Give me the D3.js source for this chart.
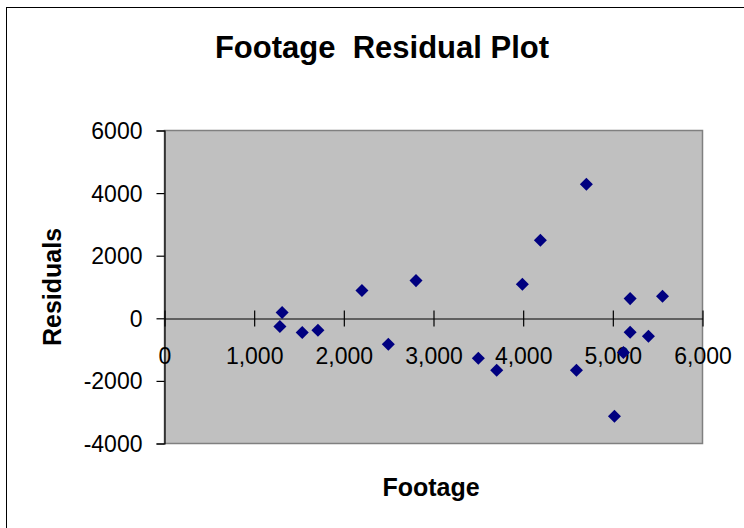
<!DOCTYPE html>
<html>
<head>
<meta charset="utf-8">
<script src="https://cdn.jsdelivr.net/npm/d3@7"></script>
<style>
  html, body { margin: 0; padding: 0; background: #fff; }
  svg { display: block; }
  text { font-family: "Liberation Sans", Arial, sans-serif; fill: #000; white-space: pre; }
</style>
</head>
<body>
<svg id="chart" width="744" height="528"></svg>
<script>
// Data
const footage = [1312, 1287, 1536, 1711, 2202, 2496, 2805, 3500, 3705, 3991, 4192, 4705, 4594, 5018, 5118, 5193, 5193, 5397, 5554];
const residuals = [182, -265, -457, -383, 885, -831, 1204, -1278, -1661, 1086, 2492, 4281, -1661, -3131, -1096, 629, -447, -575, 703];
const xTicks = [0, 1000, 2000, 3000, 4000, 5000, 6000];
const yTicks = [6000, 4000, 2000, 0, -2000, -4000];
const title = "Footage  Residual Plot";
const xTitle = "Footage";
const yTitle = "Residuals";

const svg = d3.select("#chart");
const L = 164.5, R = 702.5, T = 130.5, B = 443.5;

const x = d3.scaleLinear().domain([0, 6000]).range([L, R]);
const y = d3.scaleLinear().domain([-4000, 6000]).range([B, T]);

// outer chart border
svg.append("rect").attr("x", 6.5).attr("y", 7.5).attr("width", 760).attr("height", 540)
  .attr("fill", "#fff").attr("stroke", "#000").attr("stroke-width", 1);

// plot area
svg.append("rect").attr("x", L).attr("y", T).attr("width", R - L).attr("height", B - T)
  .attr("fill", "#C0C0C0").attr("stroke", "#808080").attr("stroke-width", 1.5);

// title
svg.append("text").attr("x", 382).attr("y", 58).attr("text-anchor", "middle")
  .attr("xml:space", "preserve")
  .style("font-size", "31px").style("font-weight", "bold").text(title);

// y axis
const yAxis = d3.axisLeft(y).tickValues(yTicks).tickSize(8).tickPadding(14)
  .tickFormat(d => String(d));
const gy = svg.append("g").attr("transform", `translate(${L},0)`).call(yAxis);
gy.select(".domain").attr("stroke", "#000").attr("stroke-width", 1.2);
gy.selectAll(".tick line").attr("stroke", "#000").attr("stroke-width", 1.2);
gy.selectAll(".tick text").style("font-size", "23px").attr("dy", "0.35em")
  .style("font-family", "'Liberation Sans', Arial, sans-serif").attr("fill", "#000");

// x axis at zero with crossing ticks
const xAxis = d3.axisBottom(x).tickValues(xTicks).tickSize(0).tickPadding(0)
  .tickFormat(d3.format(","));
const gx = svg.append("g").attr("transform", `translate(0,${Math.round(y(0)) + 0.5})`).call(xAxis);
gx.select(".domain").attr("stroke", "#000").attr("stroke-width", 1.2);
gx.selectAll(".tick line").attr("y1", -8).attr("y2", 8).attr("stroke", "#000").attr("stroke-width", 1.2);
gx.selectAll(".tick text").style("font-size", "23px").attr("y", 45).attr("dy", 0)
  .style("font-family", "'Liberation Sans', Arial, sans-serif").attr("fill", "#000");

// axis titles
svg.append("text").attr("x", 431).attr("y", 496).attr("text-anchor", "middle")
  .style("font-size", "25px").style("font-weight", "bold").text(xTitle);
svg.append("text").attr("transform", "translate(61,287) rotate(-90)").attr("text-anchor", "middle")
  .style("font-size", "25px").style("font-weight", "bold").text(yTitle);

// points
const sym = d3.symbol().type(d3.symbolSquare).size(85);
svg.append("g").selectAll("path").data(footage.map((f, i) => [f, residuals[i]]))
  .join("path")
  .attr("d", sym)
  .attr("transform", d => `translate(${x(d[0])},${y(d[1])}) rotate(45)`)
  .attr("fill", "#000080");
</script>
</body>
</html>
